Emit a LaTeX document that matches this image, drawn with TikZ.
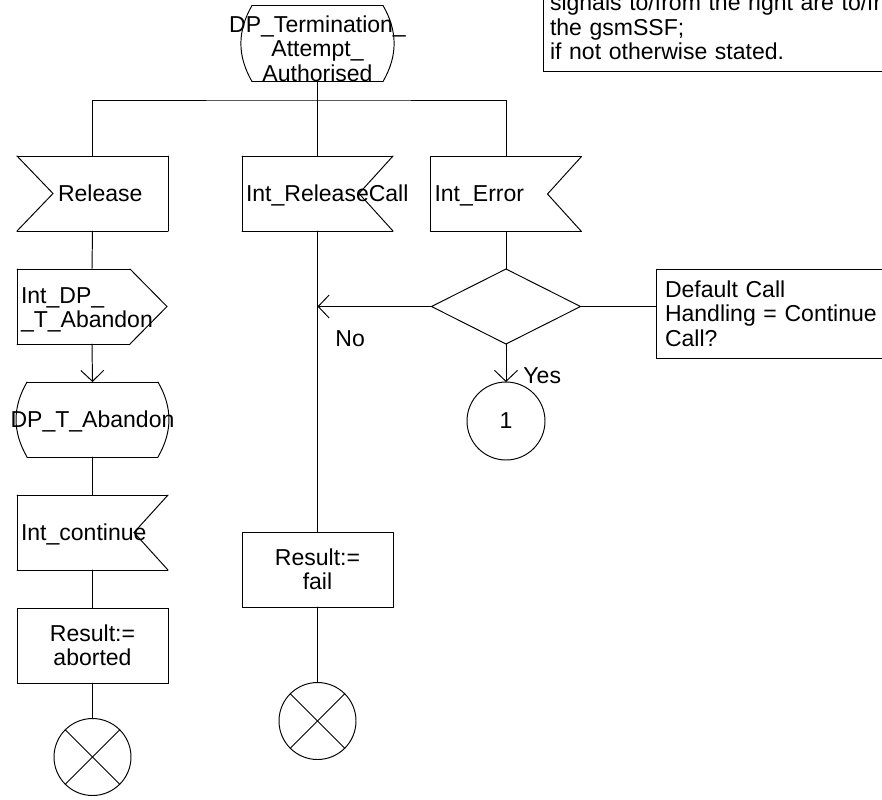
\documentclass[tikz,border=0pt]{standalone}
\usepackage{fontspec}
\setmainfont{Liberation Sans}
\usetikzlibrary{shapes.geometric,arrows.meta}

\begin{document}
\begin{tikzpicture}[x=0.02cm, y=-0.02cm, line width=0.55pt, line cap=round,
        font=\fontsize{13.1pt}{13.9pt}\selectfont,
        >={Straight Barb[length=0.22cm, width=0.46cm]}]
        \tikzstyle{sdl}=[minimum width=3.02cm, minimum height=1.5cm, inner sep=0pt, outer sep=0pt]
        \tikzstyle{izq}=[sdl, text width=2.86cm, inner xsep=0.08cm, align=left]
        \tikzstyle{tarea}=[sdl, draw, text width=2.86cm, inner xsep=0.08cm, align=center]
        \tikzstyle{entrada}=[izq, text depth=0pt, append after command={
            (\tikzlastnode.north west) edge (\tikzlastnode.north east)
            (\tikzlastnode.north east) edge (\tikzlastnode.south east)
            (\tikzlastnode.south east) edge (\tikzlastnode.south west)
            (\tikzlastnode.south west) edge ([xshift=0.72cm]\tikzlastnode.west)
            ([xshift=0.72cm]\tikzlastnode.west) edge (\tikzlastnode.north west)}]
        \tikzstyle{entradader}=[izq, text depth=0pt, append after command={
            (\tikzlastnode.north west) edge (\tikzlastnode.north east)
            (\tikzlastnode.north east) edge ([xshift=-0.68cm]\tikzlastnode.east)
            ([xshift=-0.68cm]\tikzlastnode.east) edge (\tikzlastnode.south east)
            (\tikzlastnode.south east) edge (\tikzlastnode.south west)
            (\tikzlastnode.south west) edge (\tikzlastnode.north west)}]
        \tikzstyle{salida}=[izq, minimum width=3.0cm, text width=2.84cm, append after command={
            (\tikzlastnode.north west) edge ([xshift=-0.74cm]\tikzlastnode.north east)
            ([xshift=-0.74cm]\tikzlastnode.north east) edge (\tikzlastnode.east)
            (\tikzlastnode.east) edge ([xshift=-0.74cm]\tikzlastnode.south east)
            ([xshift=-0.74cm]\tikzlastnode.south east) edge (\tikzlastnode.south west)
            (\tikzlastnode.south west) edge (\tikzlastnode.north west)}]
        \tikzstyle{estado}=[sdl, text width=2.86cm, inner xsep=0.08cm, align=center, append after command={
            ([xshift=0.2cm]\tikzlastnode.north west) edge ([xshift=-0.2cm]\tikzlastnode.north east)
            ([xshift=-0.2cm]\tikzlastnode.north east) edge[bend left=30] ([xshift=-0.2cm]\tikzlastnode.south east)
            ([xshift=-0.2cm]\tikzlastnode.south east) edge ([xshift=0.2cm]\tikzlastnode.south west)
            ([xshift=0.2cm]\tikzlastnode.south west) edge[bend left=30] ([xshift=0.2cm]\tikzlastnode.north west)}]
        \tikzstyle{fin}=[circle, draw, minimum size=1.54cm, inner sep=0pt, outer sep=0pt, append after command={
            (\tikzlastnode.north west) edge (\tikzlastnode.south east)
            (\tikzlastnode.north east) edge (\tikzlastnode.south west)}]
        \tikzstyle{conector}=[circle, draw, minimum size=1.56cm, inner sep=0pt, outer sep=0pt]
        \tikzstyle{decision}=[diamond, draw, minimum width=2.98cm, minimum height=1.5cm, inner sep=0pt, outer sep=0pt]
        \tikzstyle{nota}=[draw, align=left, outer sep=0pt]
        \tikzstyle{etiqueta}=[anchor=west, inner sep=0pt]

        \useasboundingbox (0,0) rectangle (882,799);
        \clip (0,0) rectangle (882,799);

        % Comentario superior
        \node[nota, anchor=south west, text width=7.4cm, inner xsep=0.14cm, inner ysep=0.22cm] (coment) at (543,71) {signals to/from the right are to/from\\the gsmSSF;\\if not otherwise stated.};

        \node[estado, text height=0.54cm] (st0) at (317.5,43.5) {\makebox[0pt]{DP\_Termination\_}\\Attempt\_\\Authorised};

        % Rama izquierda
        \node[entrada] (rel) at (92.5,193.5) {\hspace*{0.74cm}Release};
        \node[salida, text height=0.45cm] (sal) at (92,306.5) {Int\_DP\_\\\_T\_Abandon};
        \node[estado, text depth=0pt] (dpab) at (92.5,419.5) {\makebox[0pt]{DP\_T\_Abandon}};
        \node[entradader] (icont) at (92.5,532.5) {Int\_continue};
        \node[tarea] (abort) at (92.5,645.5) {Result:=\\aborted};
        \node[fin] (fin1) at (92.5,757) {};

        % Rama central
        \node[entradader] (irc) at (317.5,193.5) {Int\_ReleaseCall};
        \node[tarea] (fail) at (317.5,569.5) {Result:=\\fail};
        \node[fin] (fin2) at (317.5,721) {};

        % Rama derecha
        \node[entradader] (err) at (506,194) {Int\_Error};
        \node[decision] (dec) at (506,306.5) {};
        \node[nota, anchor=west, minimum height=1.78cm, text width=5cm, inner xsep=0.18cm] (regla) at (656,313.5) {Default Call\\Handling = Continue\\Call?};
        \node[conector] (uno) at (506,421) {1};
        \node[etiqueta] (no) at (335,339) {No};
        \node[etiqueta] (si) at (523,376) {Yes};

        % Conexiones
        \coordinate (rama) at (317.5,100);
        \draw (st0.south) -- (irc.north);
        \draw (rel.north) |- (rama) -| (err.north);
        \draw (rel.south) -- (sal.north);
        \draw[->] (sal.south) -- (dpab.north);
        \draw (dpab.south) -- (icont.north);
        \draw (icont.south) -- (abort.north);
        \draw (abort.south) -- (fin1.north);
        \draw (irc.south) -- (fail.north);
        \draw (fail.south) -- (fin2.north);
        \draw (err.south) -- (dec.north);
        \draw[->] (dec.south) -- (uno.north);
        \draw[->] (dec.west) -- (dec.west -| irc.south);
        \draw (dec.east) -- (dec.east -| regla.west);
    \end{tikzpicture}
\end{document}
